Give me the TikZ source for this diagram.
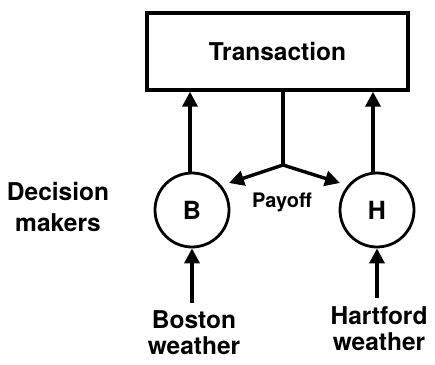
\documentclass[tikz,border=0pt]{standalone}
\usepackage{fontspec}
\setmainfont{TeX Gyre Heros}
\usetikzlibrary{arrows.meta}

\tikzset{
  lbl/.style={font=\fontsize{24.5}{26}\selectfont\bfseries, align=center, inner sep=0pt},
  dm/.style={circle, draw, line width=2.8pt, minimum size=74pt, inner sep=0pt, font=\fontsize{25}{25}\selectfont\bfseries},
  arr/.style={-{Triangle[width=15pt,length=15pt]}, line width=3.4pt},
}

\begin{document}
\begin{tikzpicture}[x=1pt,y=-1pt]
    \useasboundingbox (0,0) rectangle (435,364);
    	\node[draw, line width=3.4pt, minimum width=261pt, minimum height=77pt, lbl] (trans) at (277.5,51.5) {Transaction};
    	\node[dm] (B) at (192,210) {B};
    	\node[dm] (H) at (377,210) {H};
	\node[lbl, font=\fontsize{24.5}{31}\selectfont\bfseries] (dec) at (58,207) {Decision\\makers};
	\node[lbl, font=\fontsize{20}{20}\selectfont\bfseries] (pay) at (282,202) {Payoff};
    	\node[lbl, anchor=north] (bos) at (194,310) {Boston\\weather};
    	\node[lbl, anchor=north] (har) at (379,306) {Hartford\\weather};
	\coordinate (split) at (283,165);
	\coordinate (payB) at (229,183);
	\coordinate (payH) at (340,183);
    	% decision makers up to the transaction
            \draw[arr] (B.north -| 190,0) -- (trans.south -| 190,0);
            \draw[arr] (H.north -| 373,0) -- (trans.south -| 373,0);
    	% payoff back down
            \draw[line width=3.4pt] (trans.south -| split) -- (split);
            \draw[arr, line join=round] (split) -- (payB);
            \draw[arr, line join=round] (split) -- (payH);
    	% weather
            \draw[arr] (bos.north -| B) ++(0,-7) -- (B.south);
            \draw[arr] (har.north -| H) ++(0,-8) -- (H.south);
    \end{tikzpicture}
\end{document}
